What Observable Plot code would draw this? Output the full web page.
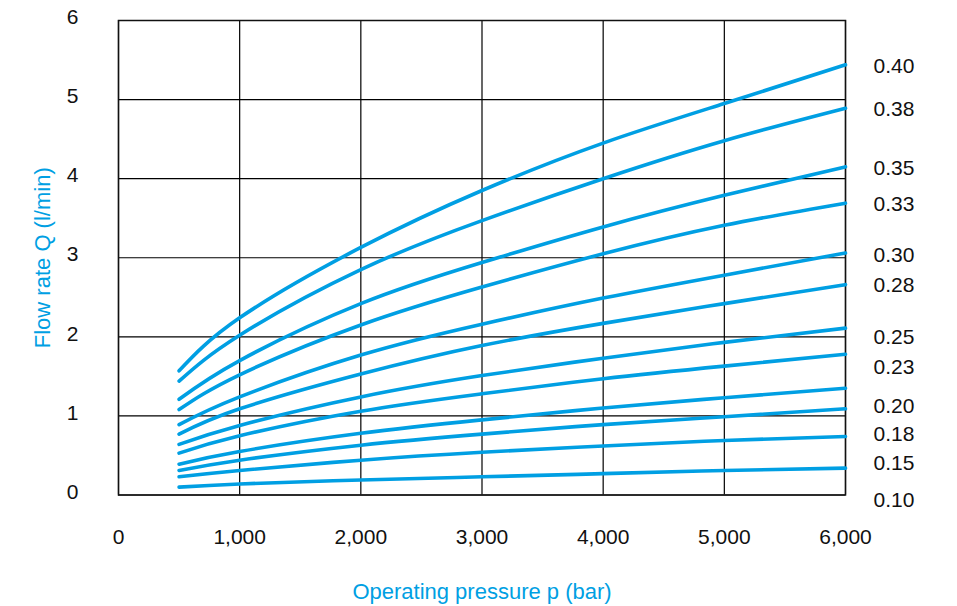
<!DOCTYPE html>
<html>
<head>
<meta charset="utf-8">
<script src="https://cdn.jsdelivr.net/npm/d3@7"></script>
<script src="https://cdn.jsdelivr.net/npm/@observablehq/plot@0.6"></script>
<style>
  html, body { margin: 0; padding: 0; background: #fff; }
  #chart { width: 957px; height: 606px; }
</style>
</head>
<body>
<div id="chart"></div>
<script>
// Operating pressure (bar) sample points
const pressures = [500, 1000, 2000, 3000, 4000, 5000, 6000];
// Nozzle sizes (curve labels)
const sizes = ["0.40", "0.38", "0.35", "0.33", "0.30", "0.28", "0.25", "0.23", "0.20", "0.18", "0.15", "0.10"];
// Flow rate Q (l/min) per nozzle at each pressure
const q040 = [1.57, 2.24, 3.13, 3.85, 4.45, 4.95, 5.44];
const q038 = [1.44, 2.02, 2.85, 3.47, 4.00, 4.48, 4.89];
const q035 = [1.21, 1.70, 2.42, 2.94, 3.39, 3.79, 4.15];
const q033 = [1.08, 1.52, 2.15, 2.63, 3.05, 3.41, 3.69];
const q030 = [0.89, 1.24, 1.77, 2.16, 2.49, 2.78, 3.06];
const q028 = [0.77, 1.09, 1.53, 1.89, 2.17, 2.42, 2.66];
const q025 = [0.64, 0.88, 1.24, 1.51, 1.73, 1.93, 2.11];
const q023 = [0.53, 0.75, 1.06, 1.28, 1.47, 1.63, 1.78];
const q020 = [0.39, 0.55, 0.78, 0.95, 1.10, 1.23, 1.35];
const q018 = [0.31, 0.44, 0.63, 0.77, 0.89, 0.99, 1.09];
const q015 = [0.23, 0.31, 0.44, 0.54, 0.62, 0.69, 0.74];
const q010 = [0.10, 0.14, 0.19, 0.23, 0.27, 0.31, 0.34];
const series = [q040, q038, q035, q033, q030, q028, q025, q023, q020, q018, q015, q010];
// Label positions on the right (l/min)
const labelQ = [5.42, 4.88, 4.13, 3.68, 3.03, 2.65, 1.99, 1.61, 1.12, 0.77, 0.40, -0.07];
// Axis ticks
const xTicks = [0, 1000, 2000, 3000, 4000, 5000, 6000];
const yTicks = [0, 1, 2, 3, 4, 5, 6];
const xTitle = "Operating pressure p (bar)";
const yTitle = "Flow rate Q (l/min)";

const rows = [];
sizes.forEach((s, i) => pressures.forEach((p, j) => rows.push({size: s, p, q: series[i][j]})));
const labels = sizes.map((s, i) => ({size: s, q: labelQ[i]}));

const blue = "#009fe3";
const font = "'Liberation Sans', Roboto, sans-serif";

const chart = Plot.plot({
  width: 957,
  height: 606,
  marginLeft: 118,
  marginRight: 112,
  marginTop: 20,
  marginBottom: 111.5,
  style: {fontFamily: font, background: "#fff", overflow: "visible"},
  x: {domain: [0, 6000], ticks: xTicks, tickFormat: d3.format(",")},
  y: {domain: [0, 6], ticks: yTicks, tickFormat: d3.format("d")},
  marks: [
    Plot.gridX(xTicks, {stroke: "#000", strokeOpacity: 1, strokeWidth: 1.2}),
    Plot.gridY(yTicks, {stroke: "#000", strokeOpacity: 1, strokeWidth: 1.2}),
    Plot.frame({stroke: "#111", strokeWidth: 1.5}),
    Plot.axisX(xTicks, {tickSize: 0, tickPadding: 34, fontSize: 21, fill: "#111", label: null, tickFormat: d3.format(",")}),
    Plot.axisY(yTicks, {tickSize: 0, tickPadding: 40, fontSize: 21, fill: "#111", label: null, dy: -3, tickFormat: d3.format("d")}),
    Plot.line(rows, {x: "p", y: "q", z: "size", stroke: blue, strokeWidth: 3.6, curve: "natural"}),
    Plot.text(labels, {x: () => 6000, y: "q", text: "size", dx: 28, textAnchor: "start", fontSize: 21, fill: "#111"}),
    Plot.text([xTitle], {frameAnchor: "bottom", textAnchor: "middle", dy: 104, fill: blue, fontSize: 22}),
    Plot.text([yTitle], {frameAnchor: "left", textAnchor: "middle", dx: -76, rotate: -90, fill: blue, fontSize: 22})
  ]
});
document.getElementById("chart").appendChild(chart);
</script>
</body>
</html>
